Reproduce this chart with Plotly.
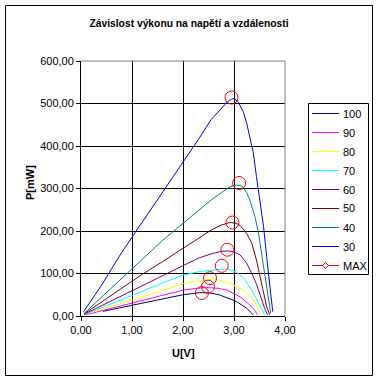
import plotly.graph_objects as go

# ---- data ----
series_names = ["100", "90", "80", "70", "60", "50", "40", "30"]
series_colors = ["#000080", "#FF00FF", "#FFFF00", "#00FFFF", "#800080", "#800000", "#008080", "#0000FF"]

u_100 = [0.43, 0.8, 1.2, 1.6, 2.0, 2.33, 2.55, 2.73, 3.05, 3.25, 3.33, 3.38]
p_100 = [11, 20, 30, 40, 50, 55, 54, 49, 34, 18, 8, 2]

u_90 = [0.1, 0.4, 0.8, 1.2, 1.6, 2.0, 2.25, 2.46, 2.7, 2.86, 3.12, 3.31, 3.40, 3.46]
p_90 = [3, 12, 25, 37, 49, 61, 65, 67, 65, 61, 45, 26, 14, 3]

u_80 = [0.06, 0.4, 0.8, 1.2, 1.6, 2.0, 2.3, 2.5, 2.7, 2.92, 3.18, 3.38, 3.47, 3.53]
p_80 = [3, 15, 30, 45, 60, 76, 83, 86, 85, 77, 61, 38, 20, 3]

u_70 = [0.06, 0.4, 0.8, 1.2, 1.6, 2.0, 2.3, 2.55, 2.75, 2.9, 3.05, 3.18, 3.3, 3.4, 3.48, 3.55, 3.60]
p_70 = [3, 19, 39, 58, 78, 96, 104, 108, 110, 110, 103, 90, 70, 50, 32, 14, 2]

u_60 = [0.06, 0.4, 0.8, 1.2, 1.6, 2.0, 2.3, 2.55, 2.75, 2.88, 3.0, 3.12, 3.25, 3.35, 3.44, 3.54, 3.60, 3.66]
p_60 = [4, 24, 48, 72, 96, 120, 136, 146, 152, 153, 151, 144, 124, 100, 75, 40, 18, 2]

u_50 = [0.06, 0.4, 0.8, 1.2, 1.6, 2.0, 2.3, 2.55, 2.75, 2.92, 3.05, 3.12, 3.25, 3.35, 3.44, 3.51, 3.58, 3.64, 3.70]
p_50 = [5, 33, 66, 98, 128, 160, 184, 202, 214, 220, 218, 213, 194, 171, 132, 95, 56, 22, 3]

u_40 = [0.06, 0.4, 0.8, 1.2, 1.6, 2.0, 2.3, 2.55, 2.75, 2.92, 3.05, 3.12, 3.18, 3.25, 3.31, 3.41, 3.48, 3.54, 3.61, 3.67, 3.72]
p_40 = [6, 44, 88, 133, 178, 218, 248, 273, 290, 304, 308, 307, 303, 290, 273, 234, 195, 147, 92, 45, 6]

u_30 = [0.05, 0.4, 0.8, 1.2, 1.6, 2.0, 2.3, 2.55, 2.75, 2.88, 2.95, 3.0, 3.08, 3.18, 3.25, 3.31, 3.38, 3.44, 3.51, 3.58, 3.64, 3.71, 3.76]
p_30 = [10, 72, 150, 220, 290, 360, 415, 462, 488, 505, 510, 512, 504, 481, 453, 422, 383, 328, 273, 210, 140, 69, 10]

max_name = "MAX"
max_u = [2.37, 2.49, 2.53, 2.76, 2.87, 2.97, 3.10, 2.95]
max_p = [54, 69, 89, 118, 156, 220, 313, 514]

x_ticks = [0, 1, 2, 3, 4]
y_ticks = [0, 100, 200, 300, 400, 500, 600]

curves_u = [u_100, u_90, u_80, u_70, u_60, u_50, u_40, u_30]
curves_p = [p_100, p_90, p_80, p_70, p_60, p_50, p_40, p_30]

FONT = "Arial, Liberation Sans, sans-serif"
MAX_COLOR = "#FF0000"

fig = go.Figure()
for name, col, uu, pp in zip(series_names, series_colors, curves_u, curves_p):
    fig.add_trace(go.Scatter(x=uu, y=pp, mode="lines", name=name,
                             line=dict(color=col, width=1)))

fig.add_trace(go.Scatter(x=max_u, y=max_p, mode="markers", name=max_name,
                         marker=dict(symbol="circle-open", size=13, color=MAX_COLOR,
                                     line=dict(width=1, color=MAX_COLOR))))

W, H = 378, 380
L, R, T, B = 81, 285, 61, 316
pw, ph = R - L, B - T

def px(xp):
    return (xp - L) / pw

def py(yp):
    return (B - yp) / ph

shapes = [
    # gray plot-area border (top and right)
    dict(type="line", xref="paper", yref="paper", x0=0, x1=1, y0=1, y1=1,
         line=dict(color="#808080", width=1), layer="above"),
    dict(type="line", xref="paper", yref="paper", x0=1, x1=1, y0=0, y1=1,
         line=dict(color="#808080", width=1), layer="above"),
    # outer chart border
    dict(type="rect", xref="paper", yref="paper",
         x0=px(5.5), x1=px(372.5), y0=py(375.5), y1=py(5.5),
         line=dict(color="black", width=1)),
    # legend box
    dict(type="rect", xref="paper", yref="paper",
         x0=px(308.5), x1=px(368.5), y0=py(274.5), y1=py(103.5),
         line=dict(color="black", width=1), fillcolor="white"),
]
annotations = [
    dict(text="<b>U[V]</b>", x=px(183), y=py(353), xref="paper", yref="paper",
         showarrow=False, xanchor="center", yanchor="middle",
         font=dict(family=FONT, size=11, color="black")),
    dict(text="<b>P[mW]</b>", x=px(30), y=py(183), xref="paper", yref="paper",
         showarrow=False, xanchor="center", yanchor="middle", textangle=-90,
         font=dict(family=FONT, size=11, color="black")),
]

# hand-drawn legend (matches the reference box size)
legend_names = series_names + [max_name]
legend_colors = series_colors + [MAX_COLOR]
for i, (nm, col) in enumerate(zip(legend_names, legend_colors)):
    yy = 113.5 + 19 * i
    shapes.append(dict(type="line", xref="paper", yref="paper",
                       x0=px(312), x1=px(339), y0=py(yy), y1=py(yy),
                       line=dict(color=col, width=1)))
    annotations.append(dict(text=nm, x=px(341), y=py(yy), xref="paper", yref="paper",
                            showarrow=False, xanchor="left", yanchor="middle",
                            font=dict(family=FONT, size=11, color="black")))
    if nm == max_name:
        shapes.append(dict(type="path", xref="paper", yref="paper",
                           path="M {a},{b} L {c},{d} L {a},{e} L {f},{d} Z".format(
                               a=px(325.5), b=py(yy - 3), c=px(328.5), d=py(yy),
                               e=py(yy + 3), f=px(322.5)),
                           line=dict(color=MAX_COLOR, width=1), fillcolor="white"))

fig.update_layout(
    width=W, height=H,
    margin=dict(l=L, r=W - R, t=T, b=H - B, autoexpand=False),
    paper_bgcolor="white", plot_bgcolor="white",
    separators=", ",
    font=dict(family=FONT, size=11, color="black"),
    title=dict(text="<b>Závislost výkonu na napětí a vzdálenosti</b>",
               x=0.5, xanchor="center", xref="container",
               y=1 - 23 / H, yanchor="middle", yref="container",
               font=dict(family=FONT, size=10.3, color="black")),
    showlegend=False,
    xaxis=dict(range=[0, 4], tickvals=x_ticks, tickformat=".2f",
               showgrid=True, gridcolor="black", gridwidth=1,
               showline=True, linecolor="black", linewidth=1,
               ticks="outside", ticklen=4, tickcolor="black",
               zeroline=False, fixedrange=True),
    yaxis=dict(range=[0, 600], tickvals=y_ticks, tickformat=".2f",
               showgrid=True, gridcolor="black", gridwidth=1,
               showline=True, linecolor="black", linewidth=1,
               ticks="outside", ticklen=4, tickcolor="black",
               zeroline=False, fixedrange=True),
    annotations=annotations,
    shapes=shapes,
)

fig.write_html("out.html", config={"displayModeBar": False},
               post_script="document.body.style.margin='0px';")
